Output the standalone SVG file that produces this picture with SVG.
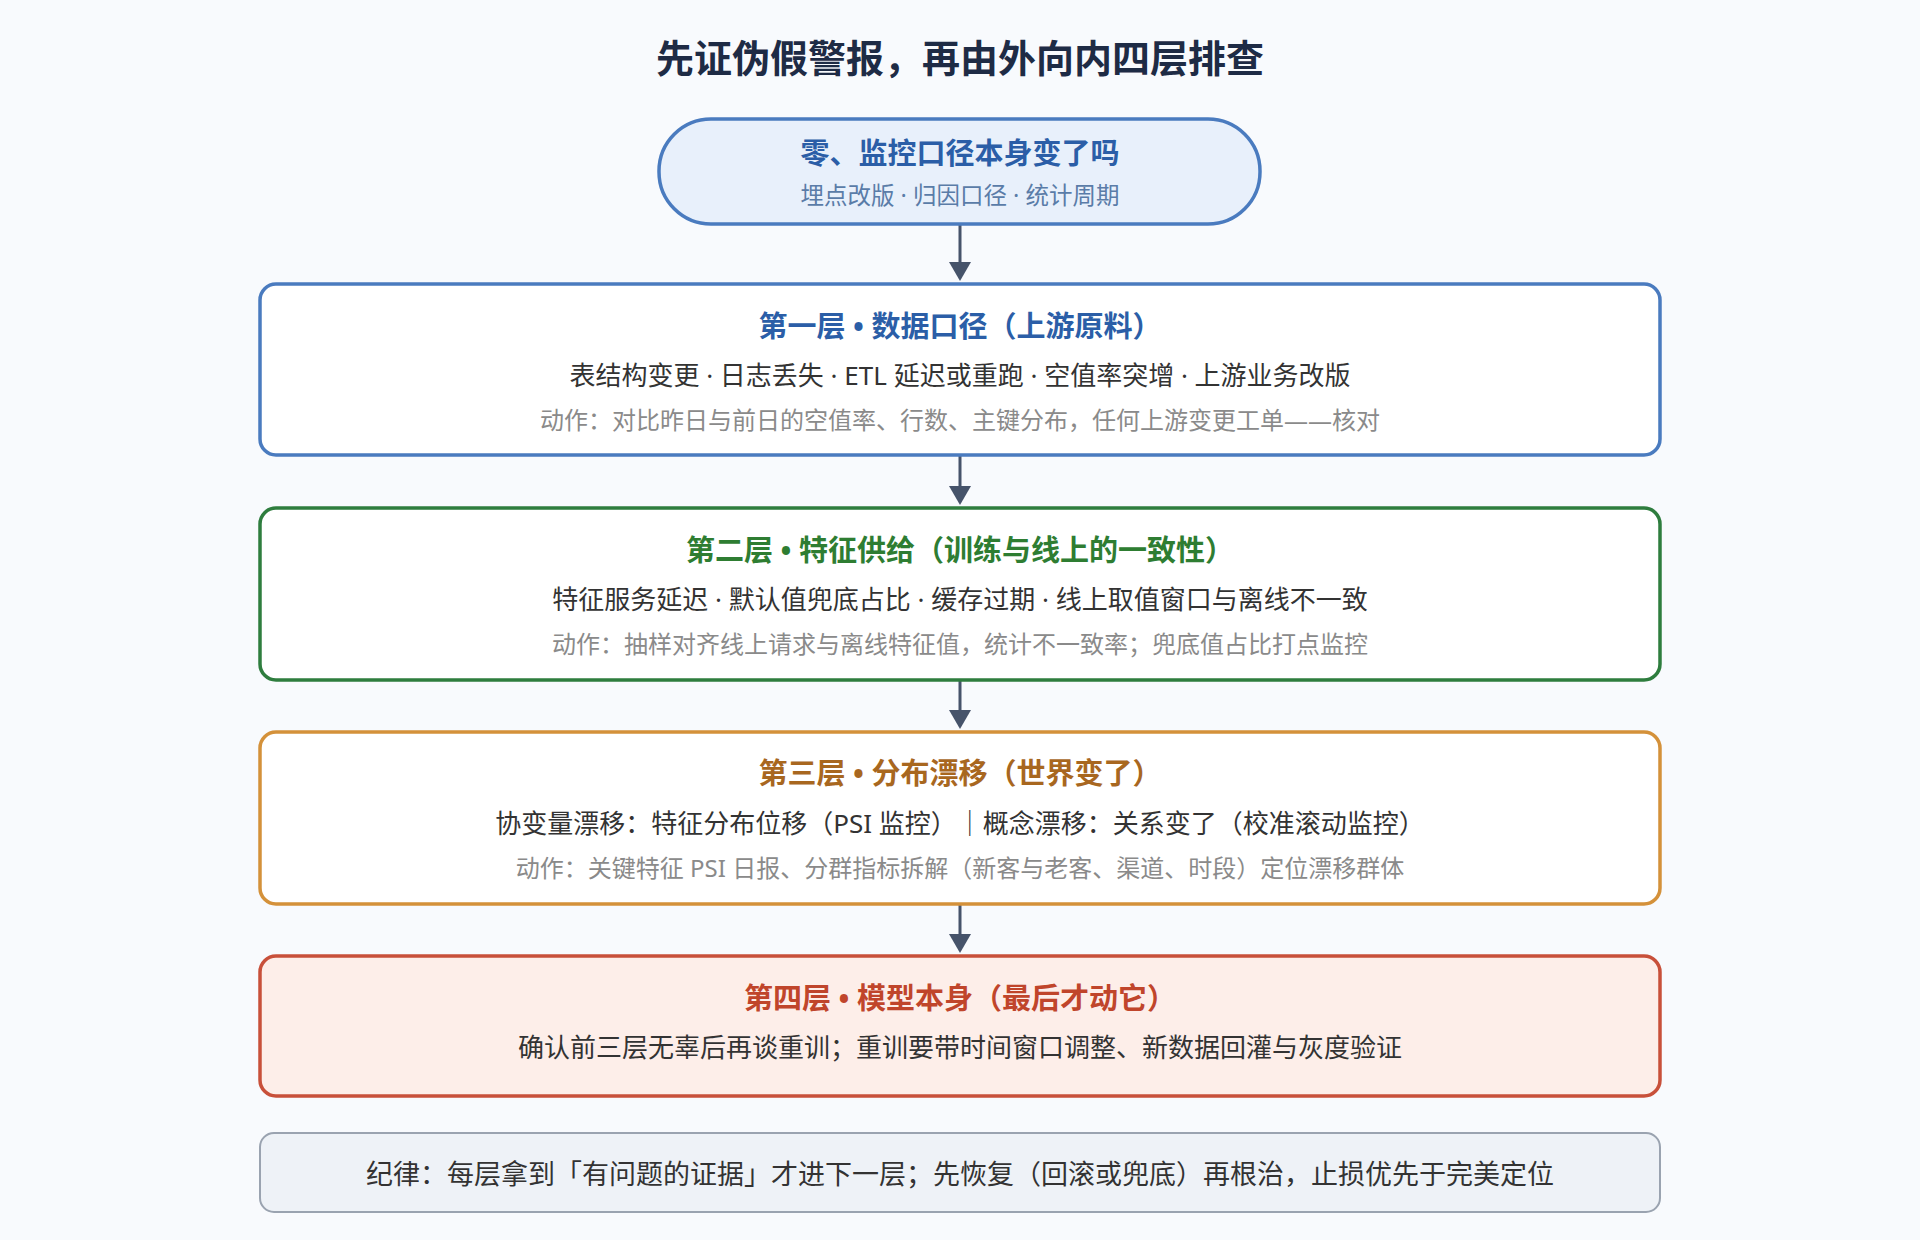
<svg xmlns="http://www.w3.org/2000/svg" width="1920" height="1240" viewBox="0 0 1920 1240">
<style>
text{font-family:"Noto Sans","Noto Sans CJK SC",sans-serif;text-anchor:middle}
.t{font-size:29px;font-weight:bold}
.b{font-size:26px;fill:#333}
.a{font-size:24px;fill:#8a8a8a}
</style>
<rect width="1920" height="1240" fill="#f8fafd"/>
<text x="960" y="72" style="font-size:38px;font-weight:bold;fill:#1e2b45">先证伪假警报，再由外向内四层排查</text>
<g id="connectors" stroke="#46536a" stroke-width="3" fill="#46536a">
<line x1="960" y1="224" x2="960" y2="264"/><path d="M949,262L971,262L960,281z" stroke="none"/>
<line x1="960" y1="455" x2="960" y2="488"/><path d="M949,486L971,486L960,505z" stroke="none"/>
<line x1="960" y1="680" x2="960" y2="712"/><path d="M949,710L971,710L960,729z" stroke="none"/>
<line x1="960" y1="904" x2="960" y2="936"/><path d="M949,934L971,934L960,953z" stroke="none"/>
</g>
<g id="n0"><rect x="659" y="119" width="601" height="105" rx="52" fill="#e8f0fb" stroke="#4a7bbf" stroke-width="3.5"/>
<text x="960" y="164" style="font-size:29px;font-weight:bold;fill:#2b5ea7">零、监控口径本身变了吗</text>
<text x="960" y="204" style="font-size:23.5px;fill:#5a7ca8">埋点改版 · 归因口径 · 统计周期</text></g>
<g id="n1"><rect x="260" y="284" width="1400" height="171" rx="16" fill="#fff" stroke="#4a7bbf" stroke-width="3.5"/>
<text x="960" y="337" class="t" fill="#2b5ea7">第一层 • 数据口径（上游原料）</text>
<text x="960" y="385" class="b">表结构变更 · 日志丢失 · ETL 延迟或重跑 · 空值率突增 · 上游业务改版</text>
<text x="960" y="429" class="a">动作：对比昨日与前日的空值率、行数、主键分布，任何上游变更工单——核对</text></g>
<g id="n2"><rect x="260" y="508" width="1400" height="172" rx="16" fill="#fff" stroke="#2e7d3e" stroke-width="3.5"/>
<text x="960" y="561" class="t" fill="#2e7d32">第二层 • 特征供给（训练与线上的一致性）</text>
<text x="960" y="609" class="b">特征服务延迟 · 默认值兜底占比 · 缓存过期 · 线上取值窗口与离线不一致</text>
<text x="960" y="653" class="a">动作：抽样对齐线上请求与离线特征值，统计不一致率；兜底值占比打点监控</text></g>
<g id="n3"><rect x="260" y="732" width="1400" height="172" rx="16" fill="#fff" stroke="#d4913a" stroke-width="3.5"/>
<text x="960" y="784" class="t" fill="#a8671f">第三层 • 分布漂移（世界变了）</text>
<text x="960" y="833" class="b">协变量漂移：特征分布位移（PSI 监控）｜概念漂移：关系变了（校准滚动监控）</text>
<text x="960" y="877" class="a">动作：关键特征 PSI 日报、分群指标拆解（新客与老客、渠道、时段）定位漂移群体</text></g>
<g id="n4"><rect x="260" y="956" width="1400" height="140" rx="16" fill="#fdeee9" stroke="#c8503a" stroke-width="3.5"/>
<text x="960" y="1009" class="t" fill="#c0452b">第四层 • 模型本身（最后才动它）</text>
<text x="960" y="1057" class="b">确认前三层无辜后再谈重训；重训要带时间窗口调整、新数据回灌与灰度验证</text></g>
<g id="footer"><rect x="260" y="1133" width="1400" height="79" rx="14" fill="#eef2f7" stroke="#9aa3b0" stroke-width="2"/>
<text x="960" y="1184" style="font-size:27px;fill:#333">纪律：每层拿到「有问题的证据」才进下一层；先恢复（回滚或兜底）再根治，止损优先于完美定位</text></g>
</svg>
